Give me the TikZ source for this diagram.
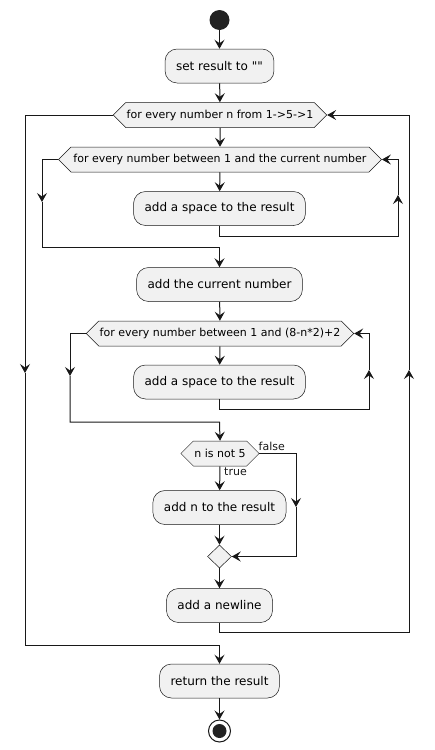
\documentclass[tikz,border=0pt]{standalone}
\usepackage{fontspec}
\setmainfont{DejaVu Sans}[Ligatures=TeXOff]
\usetikzlibrary{arrows.meta,shapes.geometric,shapes.symbols}
\definecolor{lineclr}{HTML}{181818}
\definecolor{boxfill}{HTML}{F1F1F1}
\definecolor{dotclr}{HTML}{222222}
\tikzset{
  box/.style={draw=lineclr, line width=0.5pt, fill=boxfill, rounded corners=12pt,
    minimum height=34pt, inner xsep=11pt, inner ysep=0pt,
    font=\fontsize{12}{14}\selectfont},
  hexa/.style={shape=signal, signal to=west and east, signal pointer angle=90,
    draw=lineclr, line width=0.5pt, fill=boxfill, minimum height=25pt,
    inner xsep=1pt, inner ysep=0pt, font=\fontsize{11}{13}\selectfont},
  flow/.style={draw=lineclr, line width=1pt},
  tip/.style={-{Stealth[length=9pt,width=10pt,inset=3.5pt]}},
  lbl/.style={font=\fontsize{11}{13}\selectfont, inner sep=0pt, text=lineclr}
}
\begin{document}
\begin{tikzpicture}[x=1pt,y=-1pt]
\useasboundingbox (0,0) rectangle (434,750);

\node[circle, fill=dotclr, minimum size=20pt, inner sep=0pt] (start) at (219.5,20) {};
\node[box] (set) at (219.5,66) {set result to ""};
\node[hexa] (h1) at (220,115) {for every number n from 1->5->1};
\node[hexa, inner xsep=2.5pt] (h2) at (220,159.5) {for every number between 1 and the current number};
\node[box] (sp1) at (219.5,208.5) {add a space to the result};
\node[box] (cur) at (219.5,284.5) {add the current number};
\node[hexa] (h3) at (220,333.5) {for every number between 1 and (8-n*2)+2};
\node[box] (sp2) at (219.5,382) {add a space to the result};
\node[hexa] (cond) at (220,453.5) {n is not 5};
\node[box] (addn) at (219.5,507.5) {add n to the result};
\node[diamond, draw=lineclr, line width=0.5pt, fill=boxfill, minimum width=24pt, minimum height=23pt, inner sep=0pt] (merge) at (219.5,556.5) {};
\node[box] (nl) at (219.5,605.5) {add a newline};
\node[box] (ret) at (219.5,681) {return the result};
\node[circle, draw=lineclr, line width=1pt, fill=white, minimum size=22pt, inner sep=0pt] (end) at (219.5,731) {};
\fill[dotclr] (end.center) circle (7);

% coordinates
\coordinate (c1) at (398,195);
\coordinate (c1b) at (219.5,236);
\coordinate (c2) at (42,202);
\coordinate (c2b) at (219.5,247);
\coordinate (c3) at (369,370);
\coordinate (c3b) at (219.5,409);
\coordinate (c4) at (70,376);
\coordinate (c4b) at (219.5,422);
\coordinate (c5) at (296,507);
\coordinate (c5b) at (296,556.5);
\coordinate (c6) at (409,370);
\coordinate (c6b) at (219.5,632);
\coordinate (c7) at (25,373);
\coordinate (c7b) at (219.5,645);

% main flow
\draw[flow,tip] (start) -- (set);
\draw[flow,tip] (set) -- (h1);
\draw[flow,tip] (h1) -- (h2);
\draw[flow,tip] (h2) -- (sp1);
\draw[flow,tip] (cur) -- (h3);
\draw[flow,tip] (h3) -- (sp2);
\draw[flow,tip] (cond) -- (addn);
\draw[flow,tip] (addn) -- (merge);
\draw[flow,tip] (merge) -- (nl);
\draw[flow,tip] (ret) -- (end);

% inner loop 1
\draw[flow,tip] (sp1.south) -- (c1b) -| (c1);
\draw[flow,tip] (c1) |- (h2.east);
\draw[flow,tip] (h2.west) -| (c2);
\draw[flow,tip] (c2) |- (c2b) -- (cur.north);

% inner loop 2
\draw[flow,tip] (sp2.south) -- (c3b) -| (c3);
\draw[flow,tip] (c3) |- (h3.east);
\draw[flow,tip] (h3.west) -| (c4);
\draw[flow,tip] (c4) |- (c4b) -- (cond.north);

% condition false branch
\draw[flow,tip] (cond.east) -| (c5);
\draw[flow,tip] (c5) -- (c5b) -- (merge.east);

% outer loop
\draw[flow,tip] (nl.south) -- (c6b) -| (c6);
\draw[flow,tip] (c6) |- (h1.east);
\draw[flow,tip] (h1.west) -| (c7);
\draw[flow,tip] (c7) |- (c7b) -- (ret.north);

% labels
\node[lbl, anchor=west] (tl) at (224,472) {true};
\node[lbl, anchor=west] (fl) at (258.5,446.5) {false};
\end{tikzpicture}
\end{document}
